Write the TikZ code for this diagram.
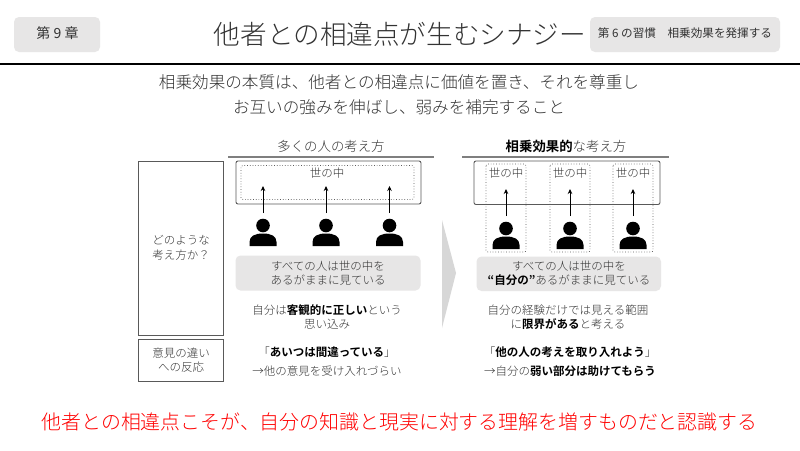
\documentclass[tikz,border=0pt]{standalone}
\usepackage{fontspec}
\setmainfont{Noto Sans CJK JP}
\newfontfamily\lightf{Noto Sans CJK JP Light}
\usetikzlibrary{arrows.meta}
\definecolor{tg}{HTML}{333333}
\definecolor{lg}{HTML}{E7E6E6}
\definecolor{mg}{HTML}{7F7F7F}
\definecolor{dg}{HTML}{595959}
\newcommand{\fs}[1]{\fontsize{#1pt}{\dimexpr 1.25\dimexpr #1pt\relax\relax}\selectfont}
\newcommand{\bd}[1]{{\bfseries\color{black}#1}}
\newcommand{\personicon}[2]{%
  \fill[black] (#1,#2-7.5) circle (6.8);
  \fill[black] (#1-13.5,#2+13) -- (#1-13.5,#2+9) .. controls (#1-13.5,#2+3) and (#1-8,#2+0.5) .. (#1,#2+0.5) .. controls (#1+8,#2+0.5) and (#1+13.5,#2+3) .. (#1+13.5,#2+9) -- (#1+13.5,#2+13) -- cycle;
}
\tikzset{
  txt/.style={inner sep=0pt,text=tg,align=center},
  small/.style={txt,font=\lightf\fs{11.5}},
  badge/.style={draw=none,fill=lg,rounded corners=5pt},
  cell/.style={draw=dg,line width=0.9pt},
  frameb/.style={draw=dg,line width=0.9pt,rounded corners=2pt},
  dot/.style={draw=dg,line width=0.7pt,dotted,rounded corners=2pt},
  band/.style={fill=lg,rounded corners=5pt},
  head/.style={draw=mg,line width=1.5pt},
  up/.style={-{Stealth[length=5pt,width=4.5pt]},line width=0.8pt,black},
}
\begin{document}
\begin{tikzpicture}[x=1pt,y=-1pt]
\useasboundingbox (0,0) rectangle (800,450);
\fill[white] (0,0) rectangle (800,450);
% top
\fill[badge] (14,17) rectangle (100,52);
\fill[badge] (590,17) rectangle (780,52);
\node[txt,font=\fs{14}] (chap) at (57.5,33) {第 9 章};
\node[txt,font=\lightf\fs{26.6}] (title) at (400,34) {他者との相違点が生むシナジー};
\node[txt,font=\fs{11.6}] (habit) at (685,33) {第 6 の習慣　相乗効果を発揮する};
\draw[black,line width=1.3pt] (0,64) -- (800,64);
\node[txt,font=\lightf\fs{16.6}] (s1) at (399,82) {相乗効果の本質は、他者との相違点に価値を置き、それを尊重し};
\node[txt,font=\lightf\fs{16.6}] (s2) at (399,107) {お互いの強みを伸ばし、弱みを補完すること};
% headers
\node[txt,font=\lightf\fs{13.4}] (h1) at (331,146) {多くの人の考え方};
\node[txt,font=\lightf\fs{13.4}] (h2) at (566,146) {\bd{相乗効果的}な考え方};
\draw[head] (228,157) -- (434,157);
\draw[head] (462,157) -- (669,157);
% left cells
\draw[cell] (138,161.5) rectangle (223,335);
\draw[cell] (138,339) rectangle (223,381);
\node[small] (q1) at (181,248) {どのような\\考え方か？};
\node[small] (q2) at (181,360) {意見の違い\\への反応};
% left world
\draw[frameb] (236,161) rectangle (421,204);
\draw[dot] (241,165.5) rectangle (414,199.5);
\node[small] (w0) at (327,173) {世の中};
% right world
\draw[frameb] (474,161) rectangle (660,204.5);
\foreach \x/\n in {506/a,570/b,633/c}{
  \draw[dot] (\x-20,164) rectangle (\x+20,252);
  \node[small] (w\n) at (\x,173) {世の中};
}
% people + arrows
\foreach \x/\n in {263/a,326/b,389.5/c}{
  \personicon{\x}{233}
  \coordinate (lf\n) at (\x,213);
  \coordinate (lt\n) at (\x,186);
  \draw[up] (lf\n) -- (lt\n);
}
\foreach \x/\n in {506/a,570/b,633/c}{
  \personicon{\x}{236}
  \coordinate (rf\n) at (\x,216);
  \coordinate (rt\n) at (\x,189);
  \draw[up] (rf\n) -- (rt\n);
}
% bands
\fill[band] (235.5,255.5) rectangle (420.5,290.5);
\fill[band] (476.5,256.5) rectangle (661,291);
\node[small] (b1) at (328,273) {すべての人は世の中を\\あるがままに見ている};
\node[small] (b2) at (569,273.5) {すべての人は世の中を\\\bd{“自分の”}あるがままに見ている};
% arrow
\fill[lg!85!gray] (442,220) -- (456,273) -- (442,328) -- cycle;
% texts
\node[small] (t1) at (327,317) {自分は\bd{客観的に正しい}という\\思い込み};
\node[small] (t2) at (568,317) {自分の経験だけでは見える範囲\\に\bd{限界がある}と考える};
\node[small] (t3) at (327,361.5) {「\bd{あいつは間違っている}」\\[4pt]→他の意見を受け入れづらい};
\node[small] (t4) at (570,361.5) {「\bd{他の人の考えを取り入れよう}」\\[4pt]→自分の\bd{弱い部分は助けてもらう}};
% bottom
\node[txt,text=red,font=\lightf\fs{19.9}] (concl) at (399.5,422) {他者との相違点こそが、自分の知識と現実に対する理解を増すものだと認識する};
\end{tikzpicture}
\end{document}
